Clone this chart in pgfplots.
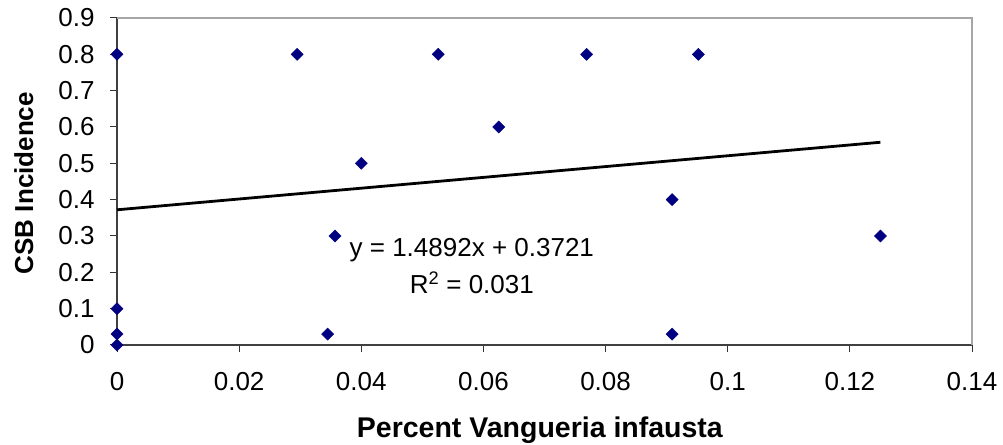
\documentclass[border=0pt]{standalone}
\usepackage{pgfplots}
\pgfplotsset{compat=1.18}
\usepackage{fontspec}
\setmainfont{Liberation Sans}
\definecolor{navy}{RGB}{0,0,128}
\begin{document}
\begin{tikzpicture}[x=1bp,y=1bp]
\begin{axis}[
  scale only axis,
  width=855bp, height=327bp,
  xmin=0, xmax=0.14, ymin=0, ymax=0.9,
  xtick={0,0.02,0.04,0.06,0.08,0.1,0.12,0.14},
  ytick={0,0.1,0.2,0.3,0.4,0.5,0.6,0.7,0.8,0.9},
  scaled x ticks=false,
  xticklabel style={/pgf/number format/fixed,/pgf/number format/precision=2, anchor=center, yshift=-30bp},
  yticklabel style={/pgf/number format/fixed,/pgf/number format/precision=1, xshift=-12bp},
  /pgf/number format/assume math mode=true,
  tick label style={font=\fontsize{26bp}{30bp}\selectfont},
  axis line style={black!75, line width=1.2pt},
  axis x line*=bottom, axis y line*=left,
  tick align=outside, major tick length=7bp,
  tick style={black!80, line width=1pt},
  xlabel={\textbf{Percent Vangueria infausta}},
  ylabel={\textbf{CSB Incidence}},
  xlabel style={font=\fontsize{28.5bp}{32bp}\selectfont, at={(axis description cs:0.4947,-0.2844)}, anchor=base},
  ylabel style={font=\fontsize{26bp}{30bp}\selectfont, at={(axis description cs:-0.0982,0.495)}, anchor=base},
  clip=false,
]
\draw[gray!70, line width=1.2pt] (axis cs:0,0.9) -- (axis cs:0.14,0.9) -- (axis cs:0.14,0);
\addplot[only marks, mark=square*, mark size=4.3bp, color=navy, mark options={fill=navy, rotate=45}] coordinates {
(0,0.8) (0,0.1) (0,0.03) (0,0)
(0.0295,0.8) (0.0345,0.03) (0.0357,0.3) (0.04,0.5)
(0.0526,0.8) (0.0625,0.6) (0.0769,0.8)
(0.0909,0.4) (0.0909,0.03) (0.0952,0.8) (0.125,0.3)
};
\addplot[black, line width=2.8pt] coordinates {(0,0.3721) (0.125,0.558)};
\node[font=\fontsize{26bp}{37bp}\selectfont, align=center, anchor=center] at (axis cs:0.0581,0.216) {y = 1.4892x + 0.3721\\R\textsuperscript{2} = 0.031};
\end{axis}
\pgfresetboundingbox
\path[use as bounding box] (-117,-100) rectangle (886,345);
\end{tikzpicture}
\end{document}
